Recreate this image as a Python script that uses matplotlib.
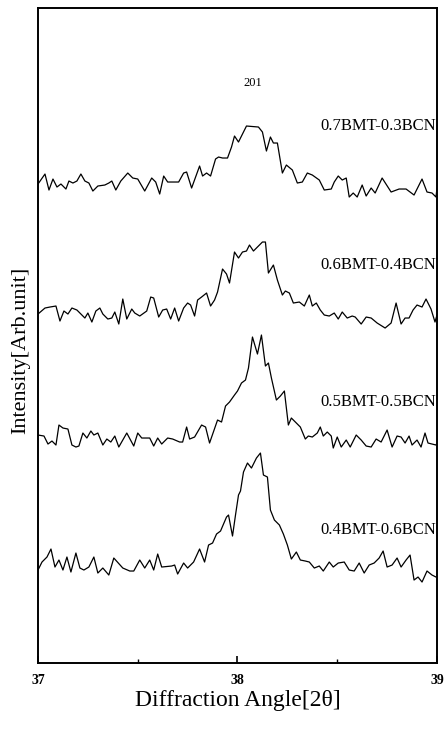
import matplotlib
matplotlib.use('Agg')
import matplotlib.pyplot as plt
from matplotlib.ticker import MultipleLocator

plt.rcParams['font.family'] = ['Liberation Serif', 'DejaVu Serif']

# XRD (201) peak, arbitrary units; each trace sits on its own offset
labels = ['0.7BMT-0.3BCN', '0.6BMT-0.4BCN', '0.5BMT-0.5BCN', '0.4BMT-0.6BCN']
offsets = [463, 333, 208, 78]

theta_07 = [37.0, 37.035, 37.055, 37.075, 37.095, 37.115, 37.14, 37.155, 37.175, 37.195,
            37.215, 37.235, 37.255, 37.275, 37.30, 37.335, 37.355, 37.37, 37.39, 37.415,
            37.45, 37.475, 37.50, 37.535, 37.57, 37.59, 37.61, 37.63, 37.65, 37.705,
            37.73, 37.745, 37.77, 37.81, 37.825, 37.845, 37.865, 37.89, 37.905, 37.925,
            37.95, 37.97, 37.985, 38.005, 38.045, 38.105, 38.125, 38.145, 38.165, 38.18,
            38.20, 38.225, 38.245, 38.275, 38.30, 38.325, 38.35, 38.375, 38.41, 38.435,
            38.47, 38.485, 38.505, 38.525, 38.545, 38.56, 38.58, 38.60, 38.625, 38.645,
            38.67, 38.69, 38.725, 38.77, 38.81, 38.845, 38.885, 38.925, 38.95, 38.975,
            38.995, 39.0]
int_07 = [16, 26, 10, 21, 13, 16, 11, 19, 17, 19,
          26, 19, 17, 9, 14, 15, 17, 19, 10, 19,
          27, 22, 21, 9, 22, 18, 6, 24, 18, 18,
          27, 28, 12, 34, 24, 27, 24, 41, 43, 42,
          42, 53, 64, 58, 74, 73, 68, 49, 63, 57,
          57, 27, 35, 30, 17, 18, 27, 25, 20, 10,
          11, 18, 24, 20, 22, 3, 7, 3, 15, 4,
          12, 7, 22, 8, 11, 11, 5, 21, 8, 7,
          3, 12]

theta_06 = [37.0, 37.035, 37.06, 37.09, 37.11, 37.13, 37.15, 37.17, 37.195, 37.22,
            37.235, 37.25, 37.27, 37.29, 37.31, 37.325, 37.35, 37.37, 37.385, 37.405,
            37.425, 37.445, 37.47, 37.485, 37.51, 37.545, 37.565, 37.58, 37.605, 37.625,
            37.645, 37.665, 37.685, 37.705, 37.73, 37.75, 37.765, 37.785, 37.80, 37.82,
            37.845, 37.865, 37.885, 37.90, 37.925, 37.945, 37.96, 37.985, 38.005, 38.025,
            38.045, 38.06, 38.08, 38.105, 38.125, 38.14, 38.155, 38.18, 38.20, 38.225,
            38.24, 38.26, 38.28, 38.31, 38.335, 38.36, 38.375, 38.395, 38.415, 38.435,
            38.46, 38.485, 38.505, 38.525, 38.55, 38.575, 38.59, 38.62, 38.645, 38.67,
            38.70, 38.74, 38.77, 38.795, 38.82, 38.84, 38.86, 38.88, 38.90, 38.925,
            38.945, 38.97, 38.99, 39.0]
int_06 = [16, 22, 23, 24, 9, 19, 16, 22, 20, 15,
          12, 17, 8, 19, 22, 16, 11, 12, 18, 6,
          31, 11, 21, 17, 14, 19, 33, 32, 13, 20,
          21, 11, 22, 9, 22, 27, 25, 14, 30, 33,
          37, 24, 30, 38, 61, 56, 47, 78, 72, 78,
          79, 85, 79, 84, 88, 88, 57, 65, 50, 35,
          39, 37, 27, 28, 24, 35, 24, 27, 20, 15,
          14, 17, 11, 18, 12, 14, 13, 6, 13, 12,
          7, 2, 7, 27, 6, 12, 12, 20, 25, 23,
          31, 21, 8, 15]

theta_05 = [37.0, 37.03, 37.05, 37.07, 37.09, 37.105, 37.125, 37.15, 37.17, 37.19,
            37.205, 37.225, 37.245, 37.265, 37.28, 37.30, 37.325, 37.345, 37.365, 37.385,
            37.405, 37.445, 37.48, 37.50, 37.52, 37.56, 37.58, 37.60, 37.62, 37.65,
            37.675, 37.71, 37.725, 37.745, 37.76, 37.785, 37.82, 37.84, 37.86, 37.90,
            37.92, 37.94, 37.96, 37.985, 38.0, 38.02, 38.04, 38.055, 38.075, 38.10,
            38.12, 38.14, 38.155, 38.17, 38.195, 38.215, 38.235, 38.255, 38.27, 38.295,
            38.315, 38.34, 38.355, 38.375, 38.40, 38.415, 38.43, 38.45, 38.47, 38.48,
            38.50, 38.52, 38.545, 38.565, 38.595, 38.62, 38.645, 38.67, 38.695, 38.72,
            38.75, 38.775, 38.80, 38.82, 38.84, 38.86, 38.875, 38.90, 38.92, 38.94,
            38.955, 38.975, 38.995, 39.0]
int_05 = [20, 19, 11, 14, 10, 30, 27, 26, 10, 8,
          9, 22, 17, 24, 20, 22, 10, 16, 13, 19,
          8, 22, 9, 22, 17, 17, 9, 17, 11, 17,
          16, 13, 13, 28, 16, 18, 30, 28, 12, 35,
          33, 49, 53, 60, 64, 72, 75, 87, 118, 101,
          120, 89, 92, 77, 55, 59, 64, 30, 37, 32,
          28, 16, 19, 18, 22, 28, 19, 23, 19, 7,
          18, 8, 15, 8, 20, 15, 9, 8, 16, 13,
          25, 8, 19, 18, 12, 19, 10, 15, 8, 22,
          12, 11, 10, 12]

theta_04 = [37.0, 37.02, 37.045, 37.065, 37.085, 37.105, 37.125, 37.145, 37.165, 37.19,
            37.21, 37.23, 37.255, 37.28, 37.30, 37.325, 37.355, 37.38, 37.425, 37.46,
            37.48, 37.51, 37.535, 37.56, 37.58, 37.60, 37.62, 37.67, 37.685, 37.70,
            37.73, 37.75, 37.78, 37.81, 37.835, 37.855, 37.875, 37.895, 37.915, 37.945,
            37.955, 37.975, 37.99, 38.005, 38.015, 38.03, 38.05, 38.07, 38.095, 38.115,
            38.13, 38.15, 38.165, 38.185, 38.21, 38.23, 38.25, 38.27, 38.295, 38.315,
            38.34, 38.36, 38.385, 38.41, 38.43, 38.46, 38.48, 38.505, 38.535, 38.56,
            38.585, 38.61, 38.635, 38.66, 38.685, 38.71, 38.73, 38.75, 38.775, 38.80,
            38.82, 38.845, 38.865, 38.885, 38.905, 38.925, 38.95, 38.975, 38.995]
int_04 = [15, 23, 28, 36, 18, 25, 15, 28, 13, 32,
          17, 15, 18, 28, 12, 17, 10, 27, 17, 14,
          14, 25, 17, 25, 15, 31, 18, 19, 20, 11,
          22, 17, 23, 36, 23, 40, 42, 51, 54, 68,
          70, 49, 70, 90, 94, 113, 122, 117, 127, 132,
          110, 108, 75, 65, 60, 51, 40, 26, 33, 25,
          24, 23, 17, 19, 14, 23, 18, 22, 23, 15,
          14, 22, 12, 20, 22, 27, 34, 18, 20, 27,
          18, 25, 30, 5, 8, 3, 14, 10, 8]

thetas = [theta_07, theta_06, theta_05, theta_04]
intensities = [int_07, int_06, int_05, int_04]
label_y = [537, 398, 261, 133]
label_x = 38.995

fig = plt.figure(figsize=(4.45, 7.29), dpi=100)
ax = fig.add_axes([0.0854, 0.0905, 0.8966, 0.8985])

for th, inten, off in zip(thetas, intensities, offsets):
    ax.plot(th, [v + off for v in inten], color='black', linewidth=0.9)

for lab, ly in zip(labels, label_y):
    ax.text(label_x, ly, lab, ha='right', va='center', fontsize=12)

ax.text(38.075, 580, '201', ha='center', va='center', fontsize=9)

ax.set_xlim(37, 39)
ax.set_ylim(0, 655)
ax.set_xticks([37, 38, 39])
ax.set_xticklabels(['37', '38', '39'], fontsize=10, fontweight='bold')
ax.xaxis.set_minor_locator(MultipleLocator(0.5))
ax.tick_params(axis='x', which='major', direction='in', length=5, width=1.2, pad=8)
ax.tick_params(axis='x', which='minor', direction='in', length=3, width=1.0)
ax.set_yticks([])
for sp in ax.spines.values():
    sp.set_linewidth(1.4)

ax.set_xlabel('Diffraction Angle[2θ]', fontsize=17, labelpad=2)
ax.set_ylabel('Intensity[Arb.unit]', fontsize=16)
ax.yaxis.set_label_coords(-0.02, 0.478)

fig.savefig('out.png', dpi=100)
